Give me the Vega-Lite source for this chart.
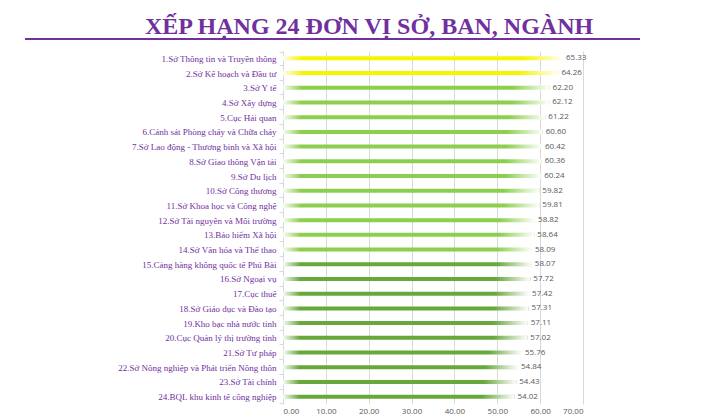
{
  "$schema": "https://vega.github.io/schema/vega-lite/v6.json",
  "autosize": "none",
  "padding": {"left": 283, "top": 51, "right": 137, "bottom": 16},
  "width": 300,
  "height": 353,
  "background": "white",
  "config": {
    "view": {"stroke": null},
    "font": "Liberation Serif"
  },
  "title": {
    "text": "XẾP HẠNG 24 ĐƠN VỊ SỞ, BAN, NGÀNH",
    "font": "Liberation Serif",
    "fontSize": 24,
    "fontWeight": "bold",
    "color": "#7030a0",
    "anchor": "middle",
    "frame": "group",
    "dx": -64,
    "dy": 27,
    "baseline": "alphabetic",
    "offset": 7
  },
  "data": {
    "values": [
      {"rank": 1, "name": "1.Sở Thông tin và Truyền thông", "score": 65.33},
      {"rank": 2, "name": "2.Sở Kế hoạch và Đầu tư", "score": 64.26},
      {"rank": 3, "name": "3.Sở Y tế", "score": 62.20},
      {"rank": 4, "name": "4.Sở Xây dựng", "score": 62.12},
      {"rank": 5, "name": "5.Cục Hải quan", "score": 61.22},
      {"rank": 6, "name": "6.Cảnh sát Phòng cháy và Chữa cháy", "score": 60.60},
      {"rank": 7, "name": "7.Sở Lao động - Thương binh và Xã hội", "score": 60.42},
      {"rank": 8, "name": "8.Sở Giao thông Vận tải", "score": 60.36},
      {"rank": 9, "name": "9.Sở Du lịch", "score": 60.24},
      {"rank": 10, "name": "10.Sở Công thương", "score": 59.82},
      {"rank": 11, "name": "11.Sở Khoa học và Công nghệ", "score": 59.81},
      {"rank": 12, "name": "12.Sở Tài nguyên và Môi trường", "score": 58.82},
      {"rank": 13, "name": "13.Bảo hiểm Xã hội", "score": 58.64},
      {"rank": 14, "name": "14.Sở Văn hóa và Thể thao", "score": 58.09},
      {"rank": 15, "name": "15.Cảng hàng không quốc tế Phú Bài", "score": 58.07},
      {"rank": 16, "name": "16.Sở Ngoại vụ", "score": 57.72},
      {"rank": 17, "name": "17.Cục thuế", "score": 57.42},
      {"rank": 18, "name": "18.Sở Giáo dục và Đào tạo", "score": 57.31},
      {"rank": 19, "name": "19.Kho bạc nhà nước tỉnh", "score": 57.11},
      {"rank": 20, "name": "20.Cục Quản lý thị trường tỉnh", "score": 57.02},
      {"rank": 21, "name": "21.Sở Tư pháp", "score": 55.76},
      {"rank": 22, "name": "22.Sở Nông nghiệp và Phát triển Nông thôn", "score": 54.84},
      {"rank": 23, "name": "23.Sở Tài chính", "score": 54.43},
      {"rank": 24, "name": "24.BQL khu kinh tế công nghiệp", "score": 54.02}
    ]
  },
  "layer": [
    {
      "layer": [
        {
          "mark": {"type": "bar", "size": 4},
          "encoding": {
            "y": {
              "field": "name",
              "type": "nominal",
              "sort": {"field": "rank"},
              "title": null,
              "axis": {
                "labelFont": "Liberation Serif",
                "labelFontSize": 9,
                "labelColor": "#7030a0",
                "labelPadding": 3,
                "domainColor": "#d9d9d9",
                "tickColor": "#d9d9d9",
                "tickSize": 4,
                "tickBand": "extent",
                "labelLimit": 300
              }
            },
            "x": {
              "field": "score",
              "type": "quantitative",
              "title": null,
              "scale": {"domain": [0, 70], "nice": false},
              "axis": {
                "values": [0, 10, 20, 30, 40, 50, 60, 70],
                "format": ".2f",
                "labelFont": "Open Sans",
                "labelFontSize": 8,
                "labelColor": "#595959",
                "labelPadding": 3,
                "domain": false,
                "ticks": false,
                "gridColor": "#d9d9d9"
              }
            },
            "color": {
              "field": "rank",
              "type": "quantitative",
              "scale": {
                "type": "threshold",
                "domain": [3, 15],
                "range": ["#f5f500", "#8ccf4d", "#67a83b"]
              },
              "legend": null
            }
          }
        },
        {
          "mark": {
            "type": "bar",
            "size": 5,
            "color": {
              "gradient": "linear",
              "x1": 0, "x2": 1, "y1": 0, "y2": 0,
              "stops": [
                {"offset": 0, "color": "rgba(255,255,255,0.95)"},
                {"offset": 0.07, "color": "rgba(255,255,255,0)"},
                {"offset": 0.86, "color": "rgba(255,255,255,0)"},
                {"offset": 1, "color": "rgba(255,255,255,1)"}
              ]
            }
          },
          "encoding": {
            "y": {"field": "name", "type": "nominal", "sort": {"field": "rank"}},
            "x": {"field": "score", "type": "quantitative"}
          }
        },
        {
          "mark": {
            "type": "text",
            "align": "left",
            "dx": 3,
            "font": "Open Sans",
            "fontSize": 8,
            "color": "#595959"
          },
          "encoding": {
            "y": {"field": "name", "type": "nominal", "sort": {"field": "rank"}},
            "x": {"field": "score", "type": "quantitative"},
            "text": {"field": "score", "type": "quantitative", "format": ".2f"}
          }
        }
      ]
    },
    {
      "data": {"values": [{}]},
      "mark": {"type": "rule", "color": "#7030a0", "strokeWidth": 2, "clip": false},
      "encoding": {
        "x": {"datum": -60.2, "type": "quantitative"},
        "x2": {"datum": 83.3},
        "y": {
          "datum": 1.034,
          "type": "quantitative",
          "scale": {"domain": [0, 1], "nice": false},
          "axis": null
        }
      }
    }
  ],
  "resolve": {"scale": {"y": "independent"}}
}
